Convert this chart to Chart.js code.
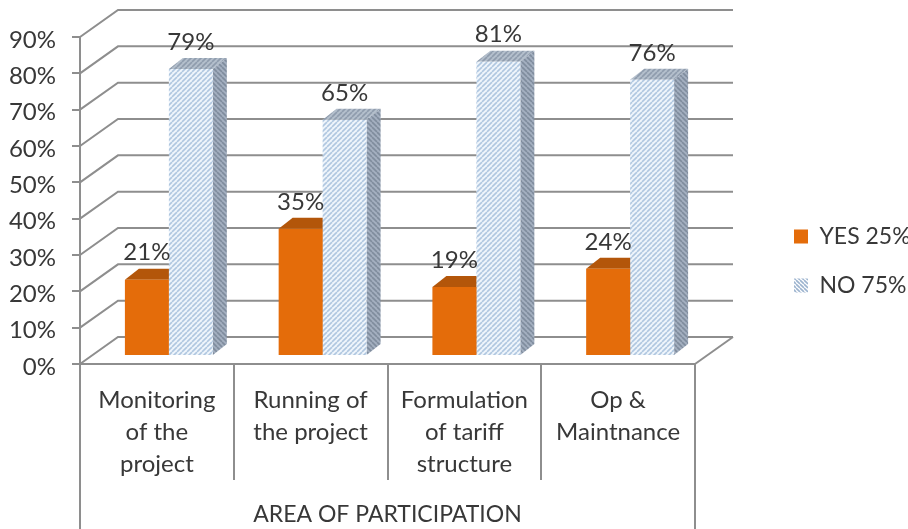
<!DOCTYPE html>
<html>
<head>
<meta charset="utf-8">
<style>
  html, body { margin: 0; background: #fff; }
  #wrap { width: 908px; height: 529px; }
</style>
<script src="https://cdn.jsdelivr.net/npm/chart.js@4"></script>
</head>
<body>
<div id="wrap"><canvas id="chart"></canvas></div>
<script>
const categories = [
  ['Monitoring', 'of the', 'project'],
  ['Running of', 'the project'],
  ['Formulation', 'of tariff', 'structure'],
  ['Op &', 'Maintnance']
];
const yesValues = [21, 35, 19, 24];
const noValues = [79, 65, 81, 76];
const seriesNames = ['YES 25%', 'NO 75%'];
const axisTitle = 'AREA OF PARTICIPATION';

const FONT = 'Lato, sans-serif';
const TEXT = '#383838';
const LINE = '#8e8e8e';
const ORANGE = '#e46c0a';

// wall and bar depth offsets
const WALL = { x: 38, y: -27 };
const BAR_SHIFT = { x: 12, y: -8 };
const BAR_DEPTH = { x: 14, y: -11 };

function stripes(bg, fg, flip, size) {
  const c = document.createElement('canvas');
  c.width = c.height = size;
  const g = c.getContext('2d');
  g.fillStyle = bg;
  g.fillRect(0, 0, size, size);
  g.strokeStyle = fg;
  g.lineWidth = 1.6;
  for (let i = -size; i <= size * 2; i += size) {
    g.beginPath();
    if (flip) { g.moveTo(i, 0); g.lineTo(i + size, size); }
    else { g.moveTo(i, size); g.lineTo(i + size, 0); }
    g.stroke();
  }
  return g.createPattern(c, 'repeat');
}

const ctx = document.getElementById('chart').getContext('2d');
const noFront = stripes('#eff5fb', '#b0c7e0', false, 5);
const noSide = stripes('#a3afbf', '#7f8c9d', true, 5);
const noTop = stripes('#b4bfcc', '#8f9cad', false, 5);
const noSwatch = stripes('#ffffff', '#9db4cf', true, 4);

const faces = [
  { top: '#b3560a', side: '#a84f08' },
  { top: noTop, side: noSide }
];

function drawFaces(c, bar, face) {
  const l = bar.x - bar.width / 2;
  const r = bar.x + bar.width / 2;
  c.fillStyle = face.top;
  c.beginPath();
  c.moveTo(l, bar.y);
  c.lineTo(l + BAR_DEPTH.x, bar.y + BAR_DEPTH.y);
  c.lineTo(r + BAR_DEPTH.x, bar.y + BAR_DEPTH.y);
  c.lineTo(r, bar.y);
  c.closePath();
  c.fill();
  c.fillStyle = face.side;
  c.beginPath();
  c.moveTo(r, bar.y);
  c.lineTo(r + BAR_DEPTH.x, bar.y + BAR_DEPTH.y);
  c.lineTo(r + BAR_DEPTH.x, bar.base + BAR_DEPTH.y);
  c.lineTo(r, bar.base);
  c.closePath();
  c.fill();
}

const wallPlugin = {
  id: 'wall',
  beforeDatasetsDraw(chart) {
    const { ctx: c, scales: { x, y } } = chart;
    c.save();
    c.strokeStyle = LINE;
    c.lineWidth = 2;
    // back wall gridlines and the diagonals running to the front axis
    y.ticks.forEach(t => {
      const py = y.getPixelForValue(t.value);
      c.beginPath();
      c.moveTo(x.left, py);
      c.lineTo(x.left + WALL.x, py + WALL.y);
      c.lineTo(x.right + WALL.x, py + WALL.y);
      c.stroke();
    });
    c.beginPath();
    c.moveTo(x.right, y.bottom);
    c.lineTo(x.right + WALL.x, y.bottom + WALL.y);
    c.stroke();
    // outer frame of the category axis
    c.beginPath();
    c.moveTo(x.left, y.bottom);
    c.lineTo(x.left, chart.height);
    c.moveTo(x.right, y.bottom);
    c.lineTo(x.right, chart.height);
    c.stroke();
    c.restore();

    // bars stand part way into the floor; depth faces go under all front faces
    c.save();
    c.translate(BAR_SHIFT.x, BAR_SHIFT.y);
    chart.data.datasets.forEach((ds, i) => {
      chart.getDatasetMeta(i).data.forEach(bar => drawFaces(c, bar, faces[i]));
    });
  },
  afterDatasetsDraw(chart) {
    const c = chart.ctx;
    // value labels above the finished bars, still in the bar plane
    c.font = '24px ' + FONT;
    c.fillStyle = TEXT;
    c.textAlign = 'center';
    c.textBaseline = 'middle';
    chart.data.datasets.forEach((ds, i) => {
      chart.getDatasetMeta(i).data.forEach((bar, j) => {
        c.fillText(ds.data[j] + '%', bar.x, bar.y - 27);
      });
    });
    c.restore();
  },
  // legend sits out to the right of the plot
  afterLayout(chart) {
    const lg = chart.legend;
    lg.left = 768;
    lg.right = lg.left + lg.width;
    lg.top = 199;
    lg.bottom = lg.top + lg.height;
  }
};

new Chart(ctx, {
  type: 'bar',
  data: {
    labels: categories,
    datasets: [
      { label: seriesNames[0], data: yesValues, backgroundColor: ORANGE },
      { label: seriesNames[1], data: noValues, backgroundColor: noFront }
    ]
  },
  plugins: [wallPlugin],
  options: {
    responsive: true,
    maintainAspectRatio: false,
    animation: false,
    layout: { padding: { top: 37, right: 213, left: 0, bottom: 0 } },
    datasets: { bar: { categoryPercentage: 0.572, barPercentage: 1 } },
    scales: {
      x: {
        afterFit(scale) { scale.height = 165; },
        border: { color: LINE, width: 2 },
        grid: { drawOnChartArea: false, tickLength: 116, color: LINE, lineWidth: 2, tickWidth: 2 },
        ticks: {
          padding: -96,
          color: TEXT,
          maxRotation: 0,
          autoSkip: false,
          font: { family: FONT, size: 24, lineHeight: 1.333 }
        },
        title: {
          display: true,
          text: axisTitle,
          color: TEXT,
          font: { family: FONT, size: 23 },
          padding: { top: 0, bottom: 1 }
        }
      },
      y: {
        min: 0,
        max: 90,
        afterFit(scale) { scale.width = 80; },
        border: { color: LINE, width: 2 },
        grid: { drawOnChartArea: false, tickLength: 8, color: LINE, lineWidth: 2 },
        ticks: {
          stepSize: 10,
          padding: 16,
          labelOffset: 3,
          color: TEXT,
          font: { family: FONT, size: 24 },
          callback: v => v + '%'
        }
      }
    },
    plugins: {
      tooltip: { enabled: false },
      legend: {
        position: 'chartArea',
        align: 'start',
        labels: {
          color: TEXT,
          boxWidth: 14,
          boxHeight: 14,
          padding: 26,
          font: { family: FONT, size: 23 },
          generateLabels(chart) {
            return chart.data.datasets.map((ds, i) => ({
              text: ds.label,
              fontColor: TEXT,
              fillStyle: i === 1 ? noSwatch : ds.backgroundColor,
              lineWidth: 0,
              strokeStyle: 'transparent',
              datasetIndex: i
            }));
          }
        }
      }
    }
  }
});
</script>
</body>
</html>
